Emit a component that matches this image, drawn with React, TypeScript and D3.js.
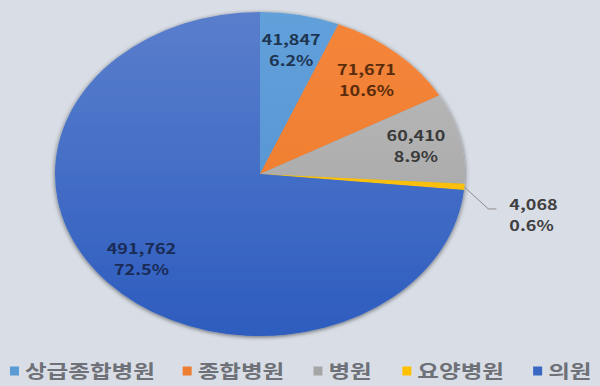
import React from "react";
import * as d3 from "d3";

const categories = ["상급종합병원", "종합병원", "병원", "요양병원", "의원"];
const values = [41847, 71671, 60410, 4068, 491762];
const percentLabels = ["6.2%", "10.6%", "8.9%", "0.6%", "72.5%"];

const W = 600;
const H = 386;
const BG = "#D9DEE6";
const colorsTop = ["#62A0DA", "#F4853A", "#BDBDBD", "#FFC814", "#5A7ECC"];
const colorsBottom = ["#4F8FD0", "#EC7A2A", "#9E9E9E", "#F5B800", "#2D5DBF"];
const legendColors = ["#5B9BD5", "#ED7D31", "#A5A5A5", "#FFC000", "#3A67C2"];
const labelColors = ["#1E3552", "#5A2C0C", "#3A3A3A", "#404040", "#1A2B55"];

const cx = 260;
const cy = 174;
const R = 162;
const sx = 205 / 162;

export default function App() {
  const pie = d3.pie<number>().sort(null).value((d) => d);
  const arcs = pie(values);
  const arcGen = d3.arc<d3.PieArcDatum<number>>().innerRadius(0).outerRadius(R);
  const labelArc = d3
    .arc<d3.PieArcDatum<number>>()
    .innerRadius(R * 0.78)
    .outerRadius(R * 0.78);
  const fmt = d3.format(",");

  const labelFs = 14.2;
  const legendFs = 18.6;
  const sq = 9;

  // legend layout
  const legendItems: { x: number; tx: number; w: number }[] = [];
  const gapSqText = 6;
  const gapItems = 32;
  const charW = legendFs * 0.89 * sx;
  const widths = categories.map((c) => c.length * charW);
  const total =
    widths.reduce((a, b) => a + b, 0) +
    categories.length * (sq + gapSqText) +
    (categories.length - 1) * gapItems;
  let lx = (W - total) / 2;
  categories.forEach((c, i) => {
    legendItems.push({ x: lx, tx: lx + sq + gapSqText, w: widths[i] });
    lx += sq + gapSqText + widths[i] + gapItems;
  });
  const legendY = 370;

  return (
    <svg
      width={W}
      height={H}
      style={{ position: "absolute", left: 0, top: 0 }}
      fontFamily="'Noto Sans CJK KR', 'Noto Sans', sans-serif"
    >
      <defs>
        {arcs.map((a, i) => (
          <linearGradient
            key={i}
            id={`g${i}`}
            gradientUnits="userSpaceOnUse"
            x1={0}
            y1={-R}
            x2={0}
            y2={R}
          >
            <stop offset="0" stopColor={colorsTop[i]} />
            <stop offset="1" stopColor={colorsBottom[i]} />
          </linearGradient>
        ))}
        <filter id="shadow" x="-10%" y="-10%" width="120%" height="120%">
          <feGaussianBlur in="SourceAlpha" stdDeviation="2" />
          <feOffset dx="0" dy="1" result="b" />
          <feComponentTransfer>
            <feFuncA type="linear" slope="0.55" />
          </feComponentTransfer>
          <feMerge>
            <feMergeNode />
            <feMergeNode in="SourceGraphic" />
          </feMerge>
        </filter>
      </defs>
      <rect x={0} y={0} width={W} height={H} fill={BG} />
      <g transform={`translate(${cx},${cy}) scale(${sx},1)`} filter="url(#shadow)">
        {arcs.map((a, i) => (
          <path key={i} d={arcGen(a) || ""} fill={`url(#g${i})`} />
        ))}
      </g>
      {arcs.map((a, i) => {
        if (i === 3) {
          const mid = (a.startAngle + a.endAngle) / 2;
          const ex = cx + Math.sin(mid) * R * sx;
          const ey = cy - Math.cos(mid) * R;
          const elx = ex + 24;
          const ely = ey + 22;
          const endx = elx + 8;
          return (
            <g key={i}>
              <polyline
                points={`${ex},${ey} ${elx},${ely} ${endx},${ely}`}
                fill="none"
                stroke="#8C8C8C"
                strokeWidth={1}
              />
              <text
                transform={`translate(${endx + 13},${ely + 1}) scale(${sx},1)`}
                fontSize={labelFs}
                fontWeight={700}
                fill={labelColors[i]}
              >
                {fmt(values[i])}
              </text>
              <text
                transform={`translate(${endx + 13},${ely + 22}) scale(${sx},1)`}
                fontSize={labelFs}
                fontWeight={700}
                fill={labelColors[i]}
              >
                {percentLabels[i]}
              </text>
            </g>
          );
        }
        const [lxc, lyc] = labelArc.centroid(a);
        const x = cx + lxc * sx;
        const y = cy + lyc;
        return (
          <g key={i}>
            <text
              transform={`translate(${x},${y - 10.5 + 5.5}) scale(${sx},1)`}
              textAnchor="middle"
              fontSize={labelFs}
              fontWeight={700}
              fill={labelColors[i]}
            >
              {fmt(values[i])}
            </text>
            <text
              transform={`translate(${x},${y + 10.5 + 5.5}) scale(${sx},1)`}
              textAnchor="middle"
              fontSize={labelFs}
              fontWeight={700}
              fill={labelColors[i]}
            >
              {percentLabels[i]}
            </text>
          </g>
        );
      })}
      {categories.map((c, i) => (
        <g key={c}>
          <rect
            x={legendItems[i].x}
            y={legendY - sq / 2 + 1}
            width={sq}
            height={sq}
            fill={legendColors[i]}
          />
          <text
            transform={`translate(${legendItems[i].tx},${legendY}) scale(${sx},1)`}
            fontSize={legendFs}
            fontWeight={700}
            fill="#6E7177"
            dominantBaseline="central"
          >
            {c}
          </text>
        </g>
      ))}
    </svg>
  );
}
